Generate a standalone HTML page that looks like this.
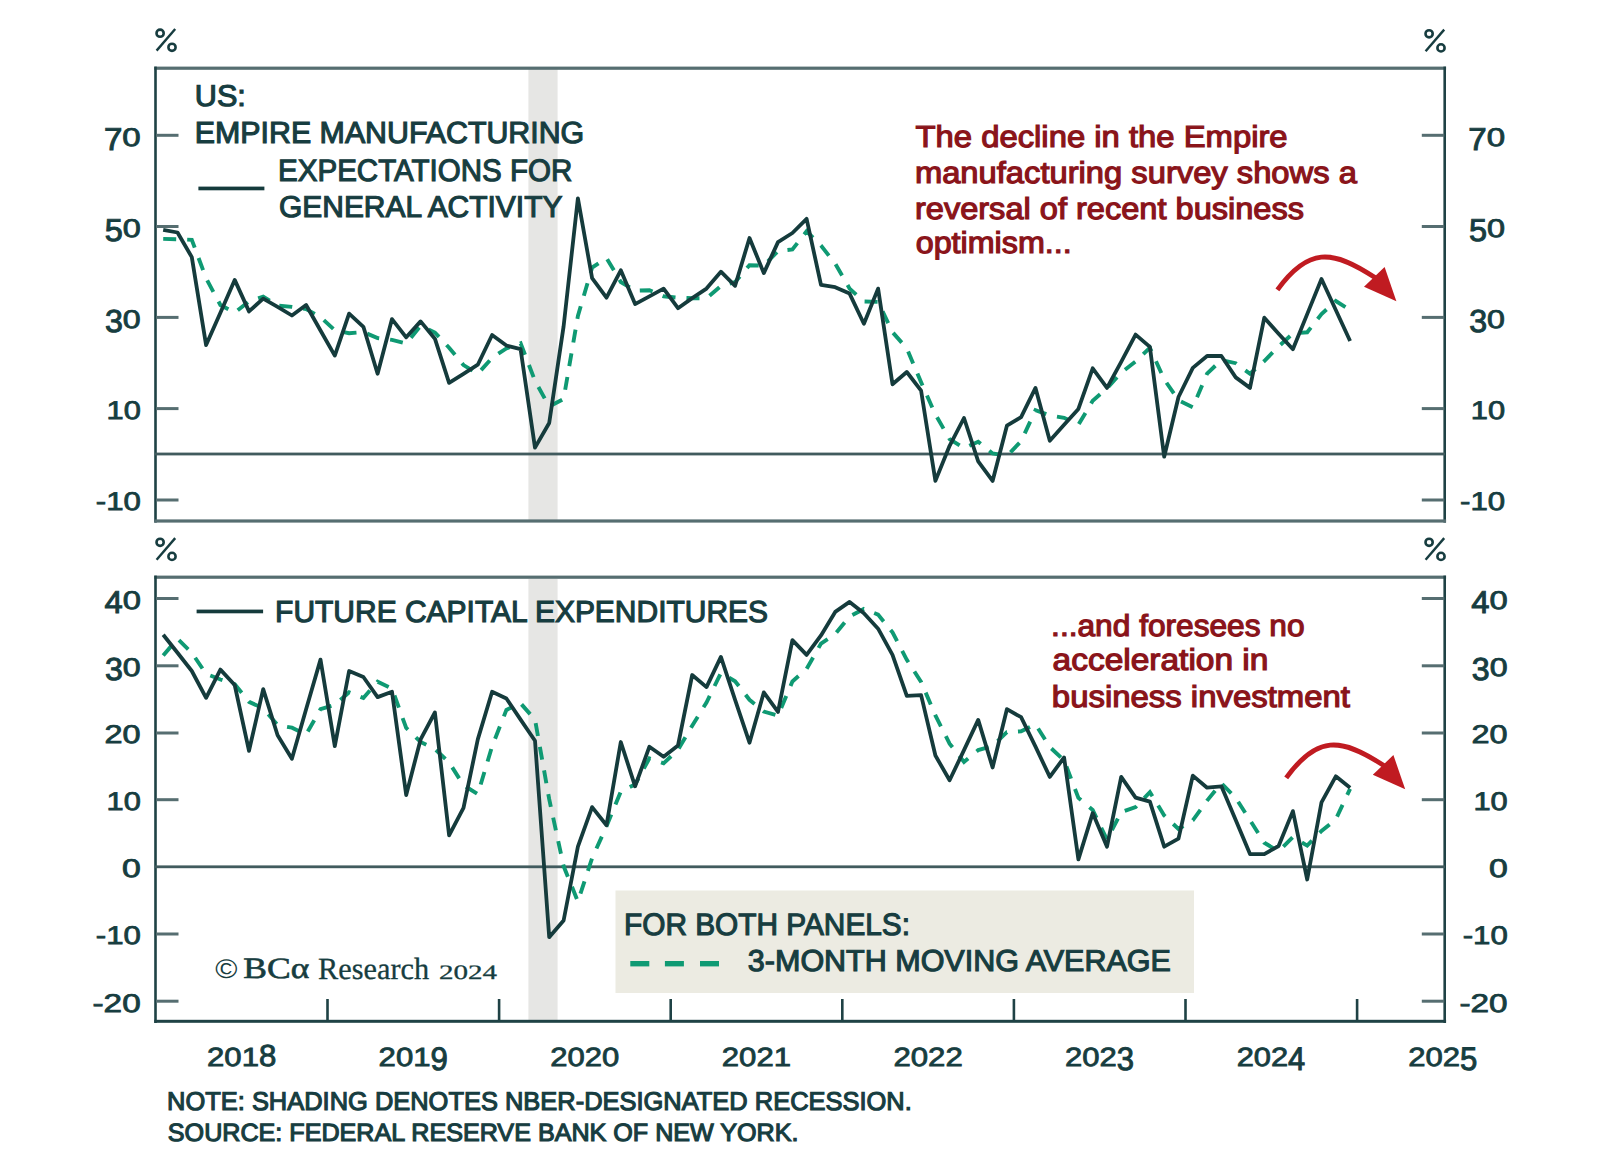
<!DOCTYPE html>
<html><head><meta charset="utf-8"><style>
html,body{margin:0;padding:0;background:#ffffff;}
svg{display:block;}
text{text-rendering:geometricPrecision;}
</style></head><body>
<svg width="1600" height="1160" viewBox="0 0 1600 1160">
<rect width="1600" height="1160" fill="#ffffff"/>
<rect x="528.4" y="69" width="29.2" height="452" fill="#e6e6e4"/>
<rect x="528.4" y="579" width="29.2" height="442" fill="#e6e6e4"/>
<rect x="615.5" y="890.5" width="578.5" height="102.5" fill="#ecebe2"/>
<rect x="154.3" y="66.6" width="1291.8" height="3.2" fill="#566e71"/>
<rect x="154.2" y="66.6" width="2.6" height="456" fill="#1f4245"/>
<rect x="1443.4" y="66.6" width="2.6" height="456" fill="#1f4245"/>
<rect x="154.3" y="519.4" width="1291.8" height="3.2" fill="#566e71"/>
<rect x="154.3" y="575.6" width="1291.8" height="3.2" fill="#566e71"/>
<rect x="154.2" y="575.6" width="2.6" height="447.4" fill="#1f4245"/>
<rect x="1443.4" y="575.6" width="2.6" height="447.4" fill="#1f4245"/>
<rect x="154.3" y="1019.8" width="1291.8" height="3.0" fill="#1f4245"/>
<rect x="155" y="452.6" width="1290" height="2.8" fill="#415b5e"/>
<rect x="155" y="865.4" width="1290" height="2.8" fill="#415b5e"/>
<rect x="156" y="133.8" width="22.5" height="3.0" fill="#566e71"/>
<rect x="1421.8" y="133.8" width="22.5" height="3.0" fill="#566e71"/>
<rect x="156" y="225.0" width="22.5" height="3.0" fill="#566e71"/>
<rect x="1421.8" y="225.0" width="22.5" height="3.0" fill="#566e71"/>
<rect x="156" y="315.9" width="22.5" height="3.0" fill="#566e71"/>
<rect x="1421.8" y="315.9" width="22.5" height="3.0" fill="#566e71"/>
<rect x="156" y="407.1" width="22.5" height="3.0" fill="#566e71"/>
<rect x="1421.8" y="407.1" width="22.5" height="3.0" fill="#566e71"/>
<rect x="156" y="498.5" width="22.5" height="3.0" fill="#566e71"/>
<rect x="1421.8" y="498.5" width="22.5" height="3.0" fill="#566e71"/>
<rect x="156" y="597.0" width="22.5" height="3.0" fill="#566e71"/>
<rect x="1421.8" y="597.0" width="22.5" height="3.0" fill="#566e71"/>
<rect x="156" y="664.3" width="22.5" height="3.0" fill="#566e71"/>
<rect x="1421.8" y="664.3" width="22.5" height="3.0" fill="#566e71"/>
<rect x="156" y="731.5" width="22.5" height="3.0" fill="#566e71"/>
<rect x="1421.8" y="731.5" width="22.5" height="3.0" fill="#566e71"/>
<rect x="156" y="798.2" width="22.5" height="3.0" fill="#566e71"/>
<rect x="1421.8" y="798.2" width="22.5" height="3.0" fill="#566e71"/>
<rect x="156" y="932.5" width="22.5" height="3.0" fill="#566e71"/>
<rect x="1421.8" y="932.5" width="22.5" height="3.0" fill="#566e71"/>
<rect x="156" y="999.7" width="22.5" height="3.0" fill="#566e71"/>
<rect x="1421.8" y="999.7" width="22.5" height="3.0" fill="#566e71"/>
<rect x="326.2" y="999" width="2.6" height="22" fill="#1f4245"/>
<rect x="497.8" y="999" width="2.6" height="22" fill="#1f4245"/>
<rect x="669.4" y="999" width="2.6" height="22" fill="#1f4245"/>
<rect x="841.0" y="999" width="2.6" height="22" fill="#1f4245"/>
<rect x="1012.6" y="999" width="2.6" height="22" fill="#1f4245"/>
<rect x="1184.2" y="999" width="2.6" height="22" fill="#1f4245"/>
<rect x="1355.8" y="999" width="2.6" height="22" fill="#1f4245"/>
<path d="M163.2,238.9 L177.5,239.3 L191.8,239.8 L206.1,278.2 L220.4,305.0 L234.7,312.6 L249.0,301.3 L263.2,296.6 L277.6,305.6 L291.9,306.9 L306.1,309.1 L320.5,317.0 L334.8,330.3 L349.1,333.2 L363.4,332.0 L377.6,338.1 L392.0,339.9 L406.2,343.4 L420.6,325.9 L434.9,332.5 L449.1,347.7 L463.5,365.1 L477.8,373.8 L492.1,357.8 L506.4,348.4 L520.6,343.3 L535.0,380.8 L549.2,406.6 L563.6,399.0 L577.9,315.9 L592.1,267.6 L606.5,258.0 L620.8,282.0 L635.1,290.7 L649.4,290.2 L663.6,296.3 L678.0,297.7 L692.2,298.3 L706.5,298.3 L720.9,286.1 L735.1,282.0 L749.5,265.2 L763.8,265.6 L778.0,251.0 L792.4,249.4 L806.6,231.3 L821.0,245.6 L835.2,263.6 L849.6,288.6 L863.9,301.5 L878.1,301.9 L892.5,332.2 L906.8,348.3 L921.1,382.3 L935.4,414.5 L949.6,439.1 L964.0,448.2 L978.2,441.7 L992.6,453.4 L1006.9,456.0 L1021.1,441.2 L1035.5,410.2 L1049.8,415.3 L1064.1,417.8 L1078.4,424.8 L1092.7,400.7 L1107.0,388.4 L1121.2,372.7 L1135.6,361.5 L1149.9,347.8 L1164.2,379.4 L1178.5,400.2 L1192.8,407.2 L1207.1,373.6 L1221.4,360.0 L1235.7,363.2 L1250.0,373.8 L1264.3,361.0 L1278.6,346.4 L1292.9,333.5 L1307.2,332.3 L1321.5,314.1 L1335.8,301.0 L1350.1,310.0" fill="none" stroke="#0f9a73" stroke-width="3.9" stroke-dasharray="13 11"/>
<path d="M163.2,229.8 L177.5,232.5 L191.8,257.1 L206.1,345.1 L220.4,312.7 L234.7,279.9 L249.0,311.4 L263.2,298.6 L277.6,306.8 L291.9,315.5 L306.1,305.0 L320.5,330.5 L334.8,355.6 L349.1,313.6 L363.4,326.8 L377.6,373.8 L392.0,319.1 L406.2,337.3 L420.6,321.4 L434.9,338.7 L449.1,382.9 L463.5,373.8 L477.8,364.7 L492.1,335.0 L506.4,345.5 L520.6,349.2 L535.0,447.6 L549.2,423.0 L563.6,326.4 L577.9,198.3 L592.1,278.1 L606.5,297.7 L620.8,270.3 L635.1,304.1 L649.4,296.3 L663.6,288.6 L678.0,308.2 L692.2,298.1 L706.5,288.6 L720.9,271.7 L735.1,285.8 L749.5,238.0 L763.8,273.1 L778.0,242.1 L792.4,233.0 L806.6,218.8 L821.0,284.9 L835.2,287.2 L849.6,293.6 L863.9,323.7 L878.1,288.6 L892.5,384.3 L906.8,372.0 L921.1,390.7 L935.4,480.9 L949.6,445.8 L964.0,418.0 L978.2,461.3 L992.6,480.9 L1006.9,425.7 L1021.1,417.1 L1035.5,387.9 L1049.8,440.8 L1064.1,424.8 L1078.4,408.9 L1092.7,368.3 L1107.0,387.9 L1121.2,361.9 L1135.6,334.6 L1149.9,346.9 L1164.2,456.7 L1178.5,397.0 L1192.8,367.9 L1207.1,356.0 L1221.4,356.0 L1235.7,377.4 L1250.0,387.9 L1264.3,317.7 L1278.6,333.7 L1292.9,349.2 L1307.2,314.1 L1321.5,279.0 L1335.8,310.0 L1350.1,341.0" fill="none" stroke="#153b3c" stroke-width="3.8" stroke-linejoin="round"/>
<path d="M163.2,655.5 L177.5,638.8 L191.8,652.8 L206.1,673.9 L220.4,679.5 L234.7,684.1 L249.0,701.8 L263.2,708.3 L277.6,725.1 L291.9,727.7 L306.1,734.4 L320.5,709.2 L334.8,704.9 L349.1,692.2 L363.4,698.0 L377.6,681.7 L392.0,688.6 L406.2,728.0 L420.6,742.0 L434.9,749.0 L449.1,762.4 L463.5,785.2 L477.8,794.1 L492.1,746.3 L506.4,709.9 L520.6,703.3 L535.0,719.6 L549.2,799.2 L563.6,866.1 L577.9,901.5 L592.1,858.1 L606.5,826.3 L620.8,791.5 L635.1,784.5 L649.4,758.4 L663.6,763.3 L678.0,749.7 L692.2,725.7 L706.5,702.5 L720.9,673.0 L735.1,681.2 L749.5,699.8 L763.8,711.6 L778.0,715.7 L792.4,681.5 L806.6,668.9 L821.0,643.5 L835.2,634.1 L849.6,616.4 L863.9,609.0 L878.1,614.6 L892.5,632.3 L906.8,659.8 L921.1,681.9 L935.4,715.4 L949.6,743.6 L964.0,761.9 L978.2,750.1 L992.6,745.9 L1006.9,732.2 L1021.1,731.3 L1035.5,724.4 L1049.8,747.0 L1064.1,760.4 L1078.4,797.9 L1092.7,810.0 L1107.0,839.7 L1121.2,812.2 L1135.6,807.1 L1149.9,792.1 L1164.2,815.4 L1178.5,829.0 L1192.8,820.3 L1207.1,800.6 L1221.4,783.2 L1235.7,797.9 L1250.0,820.1 L1264.3,842.7 L1278.6,851.4 L1292.9,837.1 L1307.2,845.6 L1321.5,831.0 L1335.8,819.4 L1350.1,788.8" fill="none" stroke="#0f9a73" stroke-width="3.9" stroke-dasharray="13 11"/>
<path d="M163.2,634.7 L177.5,652.8 L191.8,671.0 L206.1,697.8 L220.4,669.6 L234.7,685.0 L249.0,750.8 L263.2,689.1 L277.6,735.3 L291.9,758.8 L306.1,709.2 L320.5,659.6 L334.8,746.1 L349.1,671.0 L363.4,677.0 L377.6,697.1 L392.0,691.7 L406.2,795.0 L420.6,739.4 L434.9,712.5 L449.1,835.3 L463.5,807.8 L477.8,739.4 L492.1,691.7 L506.4,698.5 L520.6,719.6 L535.0,740.7 L549.2,937.2 L563.6,920.5 L577.9,846.7 L592.1,807.1 L606.5,825.2 L620.8,742.0 L635.1,786.3 L649.4,746.7 L663.6,756.8 L678.0,745.4 L692.2,675.0 L706.5,687.1 L720.9,656.9 L735.1,699.8 L749.5,742.7 L763.8,692.4 L778.0,711.9 L792.4,640.1 L806.6,654.9 L821.0,635.4 L835.2,611.9 L849.6,601.9 L863.9,613.3 L878.1,628.7 L892.5,654.9 L906.8,695.8 L921.1,695.1 L935.4,755.5 L949.6,780.3 L964.0,750.1 L978.2,719.9 L992.6,767.5 L1006.9,709.2 L1021.1,717.2 L1035.5,746.7 L1049.8,776.9 L1064.1,757.5 L1078.4,859.4 L1092.7,813.1 L1107.0,846.7 L1121.2,776.9 L1135.6,797.7 L1149.9,801.7 L1164.2,846.7 L1178.5,838.6 L1192.8,775.6 L1207.1,787.7 L1221.4,786.3 L1235.7,819.9 L1250.0,854.1 L1264.3,854.1 L1278.6,846.0 L1292.9,811.1 L1307.2,879.5 L1321.5,802.4 L1335.8,776.3 L1350.1,787.7" fill="none" stroke="#153b3c" stroke-width="3.8" stroke-linejoin="round"/>
<rect x="198.4" y="186.6" width="66" height="3.7" fill="#153b3c"/>
<rect x="196.6" y="609.6" width="66.5" height="3.7" fill="#153b3c"/>
<rect x="630.3" y="961" width="19" height="5.4" fill="#0f9a73"/>
<rect x="664.9" y="961" width="19" height="5.4" fill="#0f9a73"/>
<rect x="700.0" y="961" width="19" height="5.4" fill="#0f9a73"/>
<text transform="matrix(1.2858,0,0,1.2360,103.95,149.85)" x="0" y="0" font-family="Liberation Sans" font-size="25.736" fill="#173d40" stroke="#173d40" stroke-width="0.8">7</text>
<text transform="matrix(1.2858,0,0,1.0000,122.35,145.61)" x="0" y="0" font-family="Liberation Sans" font-size="25.736" fill="#173d40" stroke="#173d40" stroke-width="0.8">0</text>
<text transform="matrix(1.2858,0,0,1.2360,1468.25,149.85)" x="0" y="0" font-family="Liberation Sans" font-size="25.736" fill="#173d40" stroke="#173d40" stroke-width="0.8">7</text>
<text transform="matrix(1.2858,0,0,1.0000,1486.65,145.61)" x="0" y="0" font-family="Liberation Sans" font-size="25.736" fill="#173d40" stroke="#173d40" stroke-width="0.8">0</text>
<text transform="matrix(1.2615,0,0,1.2360,104.72,241.05)" x="0" y="0" font-family="Liberation Sans" font-size="25.736" fill="#173d40" stroke="#173d40" stroke-width="0.8">5</text>
<text transform="matrix(1.2615,0,0,1.0000,122.78,236.81)" x="0" y="0" font-family="Liberation Sans" font-size="25.736" fill="#173d40" stroke="#173d40" stroke-width="0.8">0</text>
<text transform="matrix(1.2615,0,0,1.2360,1469.02,241.05)" x="0" y="0" font-family="Liberation Sans" font-size="25.736" fill="#173d40" stroke="#173d40" stroke-width="0.8">5</text>
<text transform="matrix(1.2615,0,0,1.0000,1487.08,236.81)" x="0" y="0" font-family="Liberation Sans" font-size="25.736" fill="#173d40" stroke="#173d40" stroke-width="0.8">0</text>
<text transform="matrix(1.2507,0,0,1.2360,104.91,331.95)" x="0" y="0" font-family="Liberation Sans" font-size="25.736" fill="#173d40" stroke="#173d40" stroke-width="0.8">3</text>
<text transform="matrix(1.2507,0,0,1.0000,122.81,327.71)" x="0" y="0" font-family="Liberation Sans" font-size="25.736" fill="#173d40" stroke="#173d40" stroke-width="0.8">0</text>
<text transform="matrix(1.2507,0,0,1.2360,1469.21,331.95)" x="0" y="0" font-family="Liberation Sans" font-size="25.736" fill="#173d40" stroke="#173d40" stroke-width="0.8">3</text>
<text transform="matrix(1.2507,0,0,1.0000,1487.11,327.71)" x="0" y="0" font-family="Liberation Sans" font-size="25.736" fill="#173d40" stroke="#173d40" stroke-width="0.8">0</text>
<text transform="matrix(1.1984,0,0,1.0000,106.50,418.91)" x="0" y="0" font-family="Liberation Sans" font-size="25.736" fill="#173d40" stroke="#173d40" stroke-width="0.8">1</text>
<text transform="matrix(1.1984,0,0,1.0000,123.65,418.91)" x="0" y="0" font-family="Liberation Sans" font-size="25.736" fill="#173d40" stroke="#173d40" stroke-width="0.8">0</text>
<text transform="matrix(1.1984,0,0,1.0000,1470.80,418.91)" x="0" y="0" font-family="Liberation Sans" font-size="25.736" fill="#173d40" stroke="#173d40" stroke-width="0.8">1</text>
<text transform="matrix(1.1984,0,0,1.0000,1487.95,418.91)" x="0" y="0" font-family="Liberation Sans" font-size="25.736" fill="#173d40" stroke="#173d40" stroke-width="0.8">0</text>
<text transform="matrix(1.2132,0,0,1.0000,95.77,510.31)" x="0" y="0" font-family="Liberation Sans" font-size="25.736" fill="#173d40" stroke="#173d40" stroke-width="0.8">-</text>
<text transform="matrix(1.2132,0,0,1.0000,106.17,510.31)" x="0" y="0" font-family="Liberation Sans" font-size="25.736" fill="#173d40" stroke="#173d40" stroke-width="0.8">1</text>
<text transform="matrix(1.2132,0,0,1.0000,123.53,510.31)" x="0" y="0" font-family="Liberation Sans" font-size="25.736" fill="#173d40" stroke="#173d40" stroke-width="0.8">0</text>
<text transform="matrix(1.2132,0,0,1.0000,1460.07,510.31)" x="0" y="0" font-family="Liberation Sans" font-size="25.736" fill="#173d40" stroke="#173d40" stroke-width="0.8">-</text>
<text transform="matrix(1.2132,0,0,1.0000,1470.47,510.31)" x="0" y="0" font-family="Liberation Sans" font-size="25.736" fill="#173d40" stroke="#173d40" stroke-width="0.8">1</text>
<text transform="matrix(1.2132,0,0,1.0000,1487.83,510.31)" x="0" y="0" font-family="Liberation Sans" font-size="25.736" fill="#173d40" stroke="#173d40" stroke-width="0.8">0</text>
<text transform="matrix(1.2733,0,0,1.2360,104.47,613.05)" x="0" y="0" font-family="Liberation Sans" font-size="25.736" fill="#173d40" stroke="#173d40" stroke-width="0.8">4</text>
<text transform="matrix(1.2733,0,0,1.0000,122.69,608.81)" x="0" y="0" font-family="Liberation Sans" font-size="25.736" fill="#173d40" stroke="#173d40" stroke-width="0.8">0</text>
<text transform="matrix(1.2733,0,0,1.2360,1471.37,613.05)" x="0" y="0" font-family="Liberation Sans" font-size="25.736" fill="#173d40" stroke="#173d40" stroke-width="0.8">4</text>
<text transform="matrix(1.2733,0,0,1.0000,1489.59,608.81)" x="0" y="0" font-family="Liberation Sans" font-size="25.736" fill="#173d40" stroke="#173d40" stroke-width="0.8">0</text>
<text transform="matrix(1.2507,0,0,1.2360,104.91,680.35)" x="0" y="0" font-family="Liberation Sans" font-size="25.736" fill="#173d40" stroke="#173d40" stroke-width="0.8">3</text>
<text transform="matrix(1.2507,0,0,1.0000,122.81,676.11)" x="0" y="0" font-family="Liberation Sans" font-size="25.736" fill="#173d40" stroke="#173d40" stroke-width="0.8">0</text>
<text transform="matrix(1.2507,0,0,1.2360,1471.81,680.35)" x="0" y="0" font-family="Liberation Sans" font-size="25.736" fill="#173d40" stroke="#173d40" stroke-width="0.8">3</text>
<text transform="matrix(1.2507,0,0,1.0000,1489.71,676.11)" x="0" y="0" font-family="Liberation Sans" font-size="25.736" fill="#173d40" stroke="#173d40" stroke-width="0.8">0</text>
<text transform="matrix(1.2605,0,0,1.0000,104.58,743.31)" x="0" y="0" font-family="Liberation Sans" font-size="25.736" fill="#173d40" stroke="#173d40" stroke-width="0.8">2</text>
<text transform="matrix(1.2605,0,0,1.0000,122.62,743.31)" x="0" y="0" font-family="Liberation Sans" font-size="25.736" fill="#173d40" stroke="#173d40" stroke-width="0.8">0</text>
<text transform="matrix(1.2605,0,0,1.0000,1471.48,743.31)" x="0" y="0" font-family="Liberation Sans" font-size="25.736" fill="#173d40" stroke="#173d40" stroke-width="0.8">2</text>
<text transform="matrix(1.2605,0,0,1.0000,1489.52,743.31)" x="0" y="0" font-family="Liberation Sans" font-size="25.736" fill="#173d40" stroke="#173d40" stroke-width="0.8">0</text>
<text transform="matrix(1.1984,0,0,1.0000,106.50,810.01)" x="0" y="0" font-family="Liberation Sans" font-size="25.736" fill="#173d40" stroke="#173d40" stroke-width="0.8">1</text>
<text transform="matrix(1.1984,0,0,1.0000,123.65,810.01)" x="0" y="0" font-family="Liberation Sans" font-size="25.736" fill="#173d40" stroke="#173d40" stroke-width="0.8">0</text>
<text transform="matrix(1.1984,0,0,1.0000,1473.40,810.01)" x="0" y="0" font-family="Liberation Sans" font-size="25.736" fill="#173d40" stroke="#173d40" stroke-width="0.8">1</text>
<text transform="matrix(1.1984,0,0,1.0000,1490.55,810.01)" x="0" y="0" font-family="Liberation Sans" font-size="25.736" fill="#173d40" stroke="#173d40" stroke-width="0.8">0</text>
<text transform="matrix(1.3135,0,0,1.0000,122.05,877.01)" x="0" y="0" font-family="Liberation Sans" font-size="25.736" fill="#173d40" stroke="#173d40" stroke-width="0.8">0</text>
<text transform="matrix(1.3135,0,0,1.0000,1488.95,877.01)" x="0" y="0" font-family="Liberation Sans" font-size="25.736" fill="#173d40" stroke="#173d40" stroke-width="0.8">0</text>
<text transform="matrix(1.2132,0,0,1.0000,95.77,944.31)" x="0" y="0" font-family="Liberation Sans" font-size="25.736" fill="#173d40" stroke="#173d40" stroke-width="0.8">-</text>
<text transform="matrix(1.2132,0,0,1.0000,106.17,944.31)" x="0" y="0" font-family="Liberation Sans" font-size="25.736" fill="#173d40" stroke="#173d40" stroke-width="0.8">1</text>
<text transform="matrix(1.2132,0,0,1.0000,123.53,944.31)" x="0" y="0" font-family="Liberation Sans" font-size="25.736" fill="#173d40" stroke="#173d40" stroke-width="0.8">0</text>
<text transform="matrix(1.2132,0,0,1.0000,1462.67,944.31)" x="0" y="0" font-family="Liberation Sans" font-size="25.736" fill="#173d40" stroke="#173d40" stroke-width="0.8">-</text>
<text transform="matrix(1.2132,0,0,1.0000,1473.07,944.31)" x="0" y="0" font-family="Liberation Sans" font-size="25.736" fill="#173d40" stroke="#173d40" stroke-width="0.8">1</text>
<text transform="matrix(1.2132,0,0,1.0000,1490.43,944.31)" x="0" y="0" font-family="Liberation Sans" font-size="25.736" fill="#173d40" stroke="#173d40" stroke-width="0.8">0</text>
<text transform="matrix(1.2952,0,0,1.0000,92.52,1011.51)" x="0" y="0" font-family="Liberation Sans" font-size="25.736" fill="#173d40" stroke="#173d40" stroke-width="0.8">-</text>
<text transform="matrix(1.2952,0,0,1.0000,103.62,1011.51)" x="0" y="0" font-family="Liberation Sans" font-size="25.736" fill="#173d40" stroke="#173d40" stroke-width="0.8">2</text>
<text transform="matrix(1.2952,0,0,1.0000,122.16,1011.51)" x="0" y="0" font-family="Liberation Sans" font-size="25.736" fill="#173d40" stroke="#173d40" stroke-width="0.8">0</text>
<text transform="matrix(1.2952,0,0,1.0000,1459.42,1011.51)" x="0" y="0" font-family="Liberation Sans" font-size="25.736" fill="#173d40" stroke="#173d40" stroke-width="0.8">-</text>
<text transform="matrix(1.2952,0,0,1.0000,1470.52,1011.51)" x="0" y="0" font-family="Liberation Sans" font-size="25.736" fill="#173d40" stroke="#173d40" stroke-width="0.8">2</text>
<text transform="matrix(1.2952,0,0,1.0000,1489.06,1011.51)" x="0" y="0" font-family="Liberation Sans" font-size="25.736" fill="#173d40" stroke="#173d40" stroke-width="0.8">0</text>
<text x="194.81" y="105.76" font-family="Liberation Sans" font-weight="normal" font-size="30.076" fill="#173d40" stroke="#173d40" stroke-width="1.15" textLength="51.039" lengthAdjust="spacingAndGlyphs">US:</text>
<text x="194.87" y="142.67" font-family="Liberation Sans" font-weight="normal" font-size="30.501" fill="#173d40" stroke="#173d40" stroke-width="1.15" textLength="389.361" lengthAdjust="spacingAndGlyphs">EMPIRE MANUFACTURING</text>
<text x="278.11" y="180.87" font-family="Liberation Sans" font-weight="normal" font-size="30.929" fill="#173d40" stroke="#173d40" stroke-width="1.15" textLength="294.1" lengthAdjust="spacingAndGlyphs">EXPECTATIONS FOR</text>
<text x="279.02" y="216.76" font-family="Liberation Sans" font-weight="normal" font-size="30.13" fill="#173d40" stroke="#173d40" stroke-width="1.15" textLength="283.384" lengthAdjust="spacingAndGlyphs">GENERAL ACTIVITY</text>
<text x="275.1" y="622.27" font-family="Liberation Sans" font-weight="normal" font-size="30.408" fill="#173d40" stroke="#173d40" stroke-width="1.15" textLength="492.983" lengthAdjust="spacingAndGlyphs">FUTURE CAPITAL EXPENDITURES</text>
<text x="624.0" y="934.57" font-family="Liberation Sans" font-weight="normal" font-size="30.924" fill="#173d40" stroke="#173d40" stroke-width="1.15" textLength="286.026" lengthAdjust="spacingAndGlyphs">FOR BOTH PANELS:</text>
<text x="747.87" y="971.47" font-family="Liberation Sans" font-weight="normal" font-size="30.173" fill="#173d40" stroke="#173d40" stroke-width="1.15" textLength="423.028" lengthAdjust="spacingAndGlyphs">3-MONTH MOVING AVERAGE</text>
<text x="915.49" y="146.67" font-family="Liberation Sans" font-weight="normal" font-size="30.337" fill="#8a141a" stroke="#8a141a" stroke-width="1.2" textLength="372.147" lengthAdjust="spacingAndGlyphs">The decline in the Empire</text>
<text x="914.92" y="182.97" font-family="Liberation Sans" font-weight="normal" font-size="30.406" fill="#8a141a" stroke="#8a141a" stroke-width="1.2" textLength="441.935" lengthAdjust="spacingAndGlyphs">manufacturing survey shows a</text>
<text x="914.95" y="218.97" font-family="Liberation Sans" font-weight="normal" font-size="30.406" fill="#8a141a" stroke="#8a141a" stroke-width="1.2" textLength="389.117" lengthAdjust="spacingAndGlyphs">reversal of recent business</text>
<text x="915.71" y="253.0" font-family="Liberation Sans" font-weight="normal" font-size="30.406" fill="#8a141a" stroke="#8a141a" stroke-width="1.2" textLength="155.974" lengthAdjust="spacingAndGlyphs">optimism...</text>
<text x="1051.14" y="635.57" font-family="Liberation Sans" font-weight="normal" font-size="30.406" fill="#8a141a" stroke="#8a141a" stroke-width="1.2" textLength="253.448" lengthAdjust="spacingAndGlyphs">...and foresees no</text>
<text x="1052.58" y="670.2" font-family="Liberation Sans" font-weight="normal" font-size="30.406" fill="#8a141a" stroke="#8a141a" stroke-width="1.2" textLength="215.813" lengthAdjust="spacingAndGlyphs">acceleration in</text>
<text x="1051.89" y="707.3" font-family="Liberation Sans" font-weight="normal" font-size="30.406" fill="#8a141a" stroke="#8a141a" stroke-width="1.2" textLength="298.082" lengthAdjust="spacingAndGlyphs">business investment</text>
<text transform="matrix(1.1826,0,0,1.0000,207.00,1065.72)" x="0" y="0" font-family="Liberation Sans" font-size="26.335" fill="#173d40" stroke="#173d40" stroke-width="0.8">2</text>
<text transform="matrix(1.1826,0,0,1.0000,224.32,1065.72)" x="0" y="0" font-family="Liberation Sans" font-size="26.335" fill="#173d40" stroke="#173d40" stroke-width="0.8">0</text>
<text transform="matrix(1.1826,0,0,1.0000,241.64,1065.72)" x="0" y="0" font-family="Liberation Sans" font-size="26.335" fill="#173d40" stroke="#173d40" stroke-width="0.8">1</text>
<text transform="matrix(1.1826,0,0,1.1570,258.96,1065.72)" x="0" y="0" font-family="Liberation Sans" font-size="26.335" fill="#173d40" stroke="#173d40" stroke-width="0.8">8</text>
<text transform="matrix(1.1825,0,0,1.0000,378.60,1065.72)" x="0" y="0" font-family="Liberation Sans" font-size="26.335" fill="#173d40" stroke="#173d40" stroke-width="0.8">2</text>
<text transform="matrix(1.1825,0,0,1.0000,395.92,1065.72)" x="0" y="0" font-family="Liberation Sans" font-size="26.335" fill="#173d40" stroke="#173d40" stroke-width="0.8">0</text>
<text transform="matrix(1.1825,0,0,1.0000,413.24,1065.72)" x="0" y="0" font-family="Liberation Sans" font-size="26.335" fill="#173d40" stroke="#173d40" stroke-width="0.8">1</text>
<text transform="matrix(1.1825,0,0,1.2360,430.56,1070.06)" x="0" y="0" font-family="Liberation Sans" font-size="26.335" fill="#173d40" stroke="#173d40" stroke-width="0.8">9</text>
<text transform="matrix(1.1790,0,0,1.0000,550.21,1065.72)" x="0" y="0" font-family="Liberation Sans" font-size="26.335" fill="#173d40" stroke="#173d40" stroke-width="0.8">2</text>
<text transform="matrix(1.1790,0,0,1.0000,567.48,1065.72)" x="0" y="0" font-family="Liberation Sans" font-size="26.335" fill="#173d40" stroke="#173d40" stroke-width="0.8">0</text>
<text transform="matrix(1.1790,0,0,1.0000,584.75,1065.72)" x="0" y="0" font-family="Liberation Sans" font-size="26.335" fill="#173d40" stroke="#173d40" stroke-width="0.8">2</text>
<text transform="matrix(1.1790,0,0,1.0000,602.01,1065.72)" x="0" y="0" font-family="Liberation Sans" font-size="26.335" fill="#173d40" stroke="#173d40" stroke-width="0.8">0</text>
<text transform="matrix(1.1818,0,0,1.0000,721.80,1065.72)" x="0" y="0" font-family="Liberation Sans" font-size="26.335" fill="#173d40" stroke="#173d40" stroke-width="0.8">2</text>
<text transform="matrix(1.1818,0,0,1.0000,739.11,1065.72)" x="0" y="0" font-family="Liberation Sans" font-size="26.335" fill="#173d40" stroke="#173d40" stroke-width="0.8">0</text>
<text transform="matrix(1.1818,0,0,1.0000,756.42,1065.72)" x="0" y="0" font-family="Liberation Sans" font-size="26.335" fill="#173d40" stroke="#173d40" stroke-width="0.8">2</text>
<text transform="matrix(1.1818,0,0,1.0000,773.73,1065.72)" x="0" y="0" font-family="Liberation Sans" font-size="26.335" fill="#173d40" stroke="#173d40" stroke-width="0.8">1</text>
<text transform="matrix(1.1849,0,0,1.0000,893.40,1065.72)" x="0" y="0" font-family="Liberation Sans" font-size="26.335" fill="#173d40" stroke="#173d40" stroke-width="0.8">2</text>
<text transform="matrix(1.1849,0,0,1.0000,910.75,1065.72)" x="0" y="0" font-family="Liberation Sans" font-size="26.335" fill="#173d40" stroke="#173d40" stroke-width="0.8">0</text>
<text transform="matrix(1.1849,0,0,1.0000,928.11,1065.72)" x="0" y="0" font-family="Liberation Sans" font-size="26.335" fill="#173d40" stroke="#173d40" stroke-width="0.8">2</text>
<text transform="matrix(1.1849,0,0,1.0000,945.46,1065.72)" x="0" y="0" font-family="Liberation Sans" font-size="26.335" fill="#173d40" stroke="#173d40" stroke-width="0.8">2</text>
<text transform="matrix(1.1788,0,0,1.0000,1065.01,1065.72)" x="0" y="0" font-family="Liberation Sans" font-size="26.335" fill="#173d40" stroke="#173d40" stroke-width="0.8">2</text>
<text transform="matrix(1.1788,0,0,1.0000,1082.27,1065.72)" x="0" y="0" font-family="Liberation Sans" font-size="26.335" fill="#173d40" stroke="#173d40" stroke-width="0.8">0</text>
<text transform="matrix(1.1788,0,0,1.0000,1099.54,1065.72)" x="0" y="0" font-family="Liberation Sans" font-size="26.335" fill="#173d40" stroke="#173d40" stroke-width="0.8">2</text>
<text transform="matrix(1.1788,0,0,1.2360,1116.80,1070.06)" x="0" y="0" font-family="Liberation Sans" font-size="26.335" fill="#173d40" stroke="#173d40" stroke-width="0.8">3</text>
<text transform="matrix(1.1717,0,0,1.0000,1236.63,1065.72)" x="0" y="0" font-family="Liberation Sans" font-size="26.335" fill="#173d40" stroke="#173d40" stroke-width="0.8">2</text>
<text transform="matrix(1.1717,0,0,1.0000,1253.79,1065.72)" x="0" y="0" font-family="Liberation Sans" font-size="26.335" fill="#173d40" stroke="#173d40" stroke-width="0.8">0</text>
<text transform="matrix(1.1717,0,0,1.0000,1270.95,1065.72)" x="0" y="0" font-family="Liberation Sans" font-size="26.335" fill="#173d40" stroke="#173d40" stroke-width="0.8">2</text>
<text transform="matrix(1.1717,0,0,1.2360,1288.11,1070.06)" x="0" y="0" font-family="Liberation Sans" font-size="26.335" fill="#173d40" stroke="#173d40" stroke-width="0.8">4</text>
<text transform="matrix(1.1816,0,0,1.0000,1408.20,1065.72)" x="0" y="0" font-family="Liberation Sans" font-size="26.335" fill="#173d40" stroke="#173d40" stroke-width="0.8">2</text>
<text transform="matrix(1.1816,0,0,1.0000,1425.51,1065.72)" x="0" y="0" font-family="Liberation Sans" font-size="26.335" fill="#173d40" stroke="#173d40" stroke-width="0.8">0</text>
<text transform="matrix(1.1816,0,0,1.0000,1442.81,1065.72)" x="0" y="0" font-family="Liberation Sans" font-size="26.335" fill="#173d40" stroke="#173d40" stroke-width="0.8">2</text>
<text transform="matrix(1.1816,0,0,1.2360,1460.12,1070.06)" x="0" y="0" font-family="Liberation Sans" font-size="26.335" fill="#173d40" stroke="#173d40" stroke-width="0.8">5</text>
<text x="167.06" y="1110.07" font-family="Liberation Sans" font-weight="normal" font-size="25.725" fill="#173d40" stroke="#173d40" stroke-width="1.15" textLength="744.709" lengthAdjust="spacingAndGlyphs">NOTE: SHADING DENOTES NBER-DESIGNATED RECESSION.</text>
<text x="167.85" y="1141.06" font-family="Liberation Sans" font-weight="normal" font-size="25.002" fill="#173d40" stroke="#173d40" stroke-width="1.15" textLength="630.672" lengthAdjust="spacingAndGlyphs">SOURCE: FEDERAL RESERVE BANK OF NEW YORK.</text>
<text x="215.32" y="977.81" font-family="Liberation Sans" font-weight="normal" font-size="27.049" fill="#173d40" stroke="#173d40" stroke-width="0.0" textLength="22.167" lengthAdjust="spacingAndGlyphs">©</text>
<text x="243.29" y="978.47" font-family="Liberation Serif" font-weight="normal" font-size="29.53" fill="#173d40" stroke="#173d40" stroke-width="0.6" textLength="66.055" lengthAdjust="spacingAndGlyphs">BCα</text>
<text x="318.1" y="978.75" font-family="Liberation Serif" font-weight="normal" font-size="30.867" fill="#173d40" stroke="#173d40" stroke-width="0.3" textLength="111.018" lengthAdjust="spacingAndGlyphs">Research</text>
<text x="438.94" y="978.63" font-family="Liberation Serif" font-weight="normal" font-size="20.585" fill="#173d40" stroke="#173d40" stroke-width="0.3" textLength="58.114" lengthAdjust="spacingAndGlyphs">2024</text>
<g transform="translate(0.0,0)" fill="none" stroke="#173d40"><circle cx="160.1" cy="33.2" r="3.6" stroke-width="2.6"/><circle cx="172.0" cy="47.3" r="3.6" stroke-width="2.6"/><line x1="156.6" y1="50.6" x2="175.2" y2="29.0" stroke-width="2.4"/></g>
<g transform="translate(1269.0,0.6)" fill="none" stroke="#173d40"><circle cx="160.1" cy="33.2" r="3.6" stroke-width="2.6"/><circle cx="172.0" cy="47.3" r="3.6" stroke-width="2.6"/><line x1="156.6" y1="50.6" x2="175.2" y2="29.0" stroke-width="2.4"/></g>
<g transform="translate(0.0,509.1)" fill="none" stroke="#173d40"><circle cx="160.1" cy="33.2" r="3.6" stroke-width="2.6"/><circle cx="172.0" cy="47.3" r="3.6" stroke-width="2.6"/><line x1="156.6" y1="50.6" x2="175.2" y2="29.0" stroke-width="2.4"/></g>
<g transform="translate(1269.0,509.1)" fill="none" stroke="#173d40"><circle cx="160.1" cy="33.2" r="3.6" stroke-width="2.6"/><circle cx="172.0" cy="47.3" r="3.6" stroke-width="2.6"/><line x1="156.6" y1="50.6" x2="175.2" y2="29.0" stroke-width="2.4"/></g>
<g><path d="M1277.4,289.9 C1307.8,247.7 1331.7,248.8 1375,277.6" fill="none" stroke="#c01b21" stroke-width="4.8"/><polygon points="1364,286.8 1384.6,267.1 1396.4,301.2" fill="#c01b21"/></g>
<g transform="translate(8.8,488)"><path d="M1277.4,289.9 C1307.8,247.7 1331.7,248.8 1375,277.6" fill="none" stroke="#c01b21" stroke-width="4.8"/><polygon points="1364,286.8 1384.6,267.1 1396.4,301.2" fill="#c01b21"/></g>
</svg></body></html>
